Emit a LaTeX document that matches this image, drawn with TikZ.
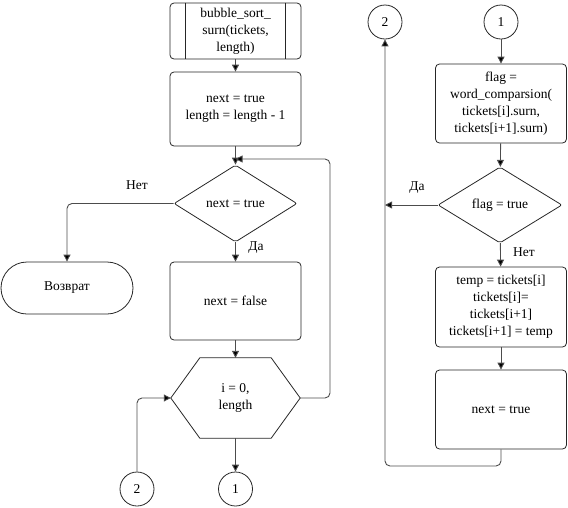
\documentclass[tikz,border=0pt]{standalone}
\usepackage{fontspec}
\setmainfont{Liberation Serif}
\usetikzlibrary{shapes.geometric,arrows.meta}
\begin{document}
\begin{tikzpicture}[x=1pt,y=-1pt,
  every node/.style={font=\fontsize{13.5}{17}\selectfont},
  proc/.style={draw=black!85,line width=0.8pt,rounded corners=4pt,minimum width=131pt,align=center,inner sep=2pt},
  dec/.style={draw=black!85,line width=0.8pt,diamond,rounded corners=2pt,inner sep=0pt},
  conn/.style={draw=black!85,line width=0.8pt,circle,minimum size=34pt,inner sep=0pt},
  term/.style={draw=black!85,line width=0.8pt,rounded corners=26pt,minimum width=132pt,minimum height=52pt},
  hexa/.style={minimum width=129pt,minimum height=80pt,align=center},
  lab/.style={inner sep=0pt},
  flow/.style={draw=black!70,line width=0.9pt,rounded corners=5pt,-{Triangle[length=7pt,width=7pt,fill=black]}},
  plain/.style={draw=black!70,line width=0.9pt,rounded corners=5pt}]
\useasboundingbox (0,0) rectangle (568,507);
% left column
\node[proc,minimum height=56pt] (sub) at (235.5,31) {bubble\_sort\_\\surn(tickets,\\length)};
\draw[black!85,line width=0.8pt] ([xshift=16pt]sub.north west) -- ([xshift=16pt]sub.south west);
\draw[black!85,line width=0.8pt] ([xshift=-16pt]sub.north east) -- ([xshift=-16pt]sub.south east);
\node[proc,minimum height=74pt] (b1) at (235.5,109) {next = true\\length = length - 1};
\node[dec,minimum width=123pt,minimum height=77pt] (d1) at (235.5,203.5) {next = true};
\node[term] (ret) at (67,288) {Возврат};
\node[proc,minimum height=78pt] (b2) at (235.5,301) {next = false};
\node[hexa] (hex) at (235.5,398) {i = 0,\\length};
\draw[black!85,line width=0.8pt] (hex.west) -- ([xshift=29pt]hex.north west) -- ([xshift=-29pt]hex.north east) -- (hex.east) -- ([xshift=-29pt]hex.south east) -- ([xshift=29pt]hex.south west) -- cycle;
\node[conn] (c1b) at (235.5,489) {1};
\node[conn] (c2b) at (137,489) {2};
\coordinate (jn) at (235.5,159);
\coordinate (lx) at (330,159);
\node[lab] at (137,185) {Нет};
\node[lab] at (256,248) {Да};
\draw[flow] (sub) -- (b1);
\draw[flow] (b1) -- (d1);
\draw[flow] (d1.west) -| (ret.north);
\draw[flow] (d1) -- (b2);
\draw[flow] (b2) -- (hex.north);
\draw[flow] (hex.east) -| (lx) -- (jn);
\draw[flow] (hex.south) -- (c1b);
\draw[flow] (c2b.north) |- (hex.west);
% right column
\node[conn] (c2t) at (385,22) {2};
\node[conn] (c1t) at (501,22) {1};
\node[proc,minimum height=79pt] (fl) at (501,103.5) {flag =\\word\_comparsion(\\tickets[i].surn,\\tickets[i+1].surn)};
\node[dec,minimum width=124pt,minimum height=76pt] (d2) at (500,205) {flag = true};
\node[proc,minimum height=80pt] (tmp) at (501,307) {temp = tickets[i]\\tickets[i]=\\tickets[i+1]\\tickets[i+1] = temp};
\node[proc,minimum height=79pt] (nt) at (501,409.5) {next = true};
\coordinate (ra) at (385,205);
\coordinate (rb) at (501,466);
\node[lab] at (417,188) {Да};
\node[lab] at (524,252) {Нет};
\draw[flow] (c1t) -- (fl);
\draw[flow] (fl) -- (d2);
\draw[flow] (d2.west) -- (ra);
\draw[flow] (d2) -- (tmp);
\draw[flow] (tmp) -- (nt);
\draw[flow] (nt.south) -- (rb) -| (c2t.south);
\end{tikzpicture}
\end{document}
